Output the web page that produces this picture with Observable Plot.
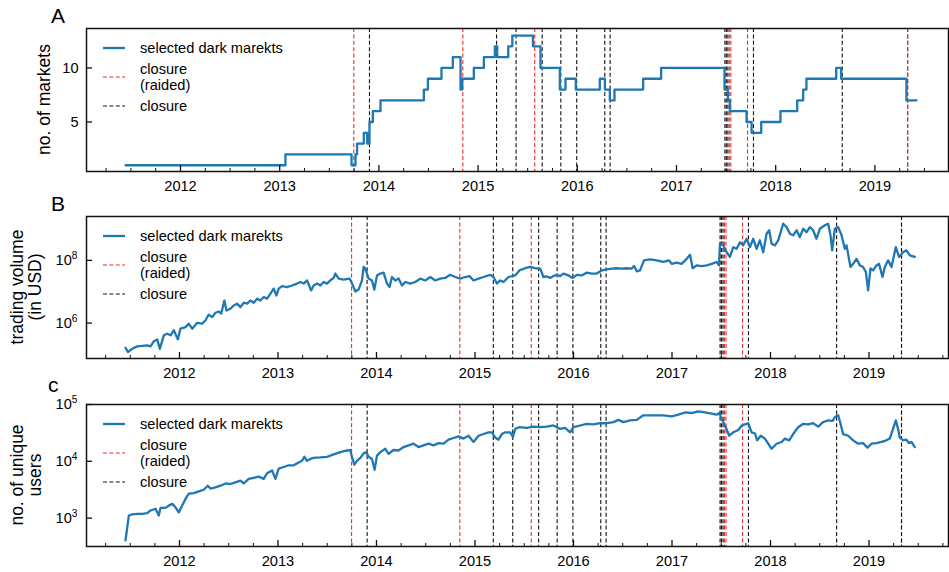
<!DOCTYPE html>
<html>
<head>
<meta charset="utf-8">
<script src="https://cdn.jsdelivr.net/npm/d3@7"></script>
<script src="https://cdn.jsdelivr.net/npm/@observablehq/plot@0.6"></script>
<style>
  body { margin: 0; background: #fff; }
  #wrap { position: relative; width: 949px; height: 572px; overflow: hidden; font-family: "Liberation Sans", Arial, Helvetica, sans-serif; }
  #wrap svg { position: absolute; left: 0; overflow: visible; }
</style>
</head>
<body>
<div id="wrap"></div>
<script>
// ---------------- data ----------------
const yearTicks = [2012, 2013, 2014, 2015, 2016, 2017, 2018, 2019];
const panelLetters = ["A", "B", "c"];
const legendLabels = ["selected dark marekts", "closure", "(raided)", "closure"];

// Panel A: number of markets (step changes), decimal year
const marketYear = [2011.446,2013.058,2013.724,2013.764,2013.78,2013.848,2013.882,2013.905,2013.939,2014.016,2014.453,2014.494,2014.631,2014.745,2014.823,2014.84,2014.957,2015.058,2015.169,2015.193,2015.304,2015.345,2015.553,2015.629,2015.824,2015.881,2015.985,2016.227,2016.278,2016.328,2016.375,2016.664,2016.845,2017.484,2017.518,2017.538,2017.706,2017.757,2017.854,2018.048,2018.217,2018.277,2018.31,2018.61,2018.66,2019.318,2019.419];
const marketCount = [1,2,1,2,3,4,3,5,6,7,8,9,10,11,8,9,10,11,12,11,12,13,12,10,8,9,8,9,8,7,8,9,10,8,7,6,5,4,5,6,7,8,9,10,9,7,7];

// Panel B: trading volume (USD)
const volumeYear = [2011.452,2011.476,2011.520,2011.571,2011.622,2011.672,2011.706,2011.739,2011.774,2011.800,2011.841,2011.875,2011.909,2011.942,2011.983,2012.010,2012.061,2012.094,2012.129,2012.180,2012.230,2012.264,2012.297,2012.332,2012.365,2012.399,2012.423,2012.456,2012.477,2012.517,2012.551,2012.585,2012.619,2012.652,2012.687,2012.720,2012.754,2012.788,2012.822,2012.855,2012.889,2012.923,2012.956,2012.984,2013.007,2013.042,2013.092,2013.143,2013.194,2013.227,2013.261,2013.295,2013.336,2013.362,2013.397,2013.430,2013.463,2013.498,2013.531,2013.565,2013.582,2013.616,2013.666,2013.727,2013.752,2013.785,2013.818,2013.853,2013.869,2013.886,2013.920,2013.954,2013.978,2014.005,2014.039,2014.072,2014.107,2014.133,2014.157,2014.191,2014.224,2014.259,2014.292,2014.343,2014.394,2014.444,2014.495,2014.546,2014.596,2014.647,2014.698,2014.748,2014.799,2014.850,2014.901,2014.944,2014.985,2015.036,2015.086,2015.154,2015.188,2015.222,2015.256,2015.289,2015.340,2015.408,2015.451,2015.509,2015.560,2015.611,2015.661,2015.695,2015.729,2015.763,2015.796,2015.831,2015.864,2015.898,2015.948,2015.993,2016.033,2016.084,2016.135,2016.186,2016.236,2016.287,2016.338,2016.389,2016.439,2016.490,2016.541,2016.591,2016.615,2016.642,2016.675,2016.716,2016.777,2016.845,2016.912,2016.970,2016.997,2017.048,2017.098,2017.149,2017.183,2017.210,2017.250,2017.301,2017.352,2017.403,2017.453,2017.477,2017.487,2017.520,2017.555,2017.588,2017.622,2017.656,2017.690,2017.723,2017.758,2017.791,2017.825,2017.859,2017.892,2017.926,2017.960,2017.987,2018.011,2018.045,2018.078,2018.129,2018.163,2018.197,2018.230,2018.265,2018.298,2018.332,2018.366,2018.400,2018.433,2018.467,2018.501,2018.552,2018.585,2018.609,2018.626,2018.653,2018.687,2018.721,2018.755,2018.772,2018.812,2018.839,2018.873,2018.907,2018.940,2018.968,2018.991,2019.015,2019.042,2019.076,2019.102,2019.137,2019.160,2019.194,2019.228,2019.272,2019.305,2019.346,2019.380,2019.414,2019.465];
const volumeUSD = [1.64e5,1.19e5,1.51e5,1.81e5,1.86e5,1.95e5,1.81e5,2.61e5,3.02e5,1.51e5,4.07e5,4.57e5,4.07e5,5.89e5,3.02e5,6.61e5,7.41e5,9.55e5,6.61e5,1.02e6,9.55e5,1.23e6,1.86e6,1.55e6,2.14e6,2.34e6,2.00e6,5.25e6,2.51e6,2.88e6,3.63e6,4.17e6,3.24e6,4.47e6,4.17e6,5.25e6,4.47e6,6.03e6,5.25e6,6.76e6,6.03e6,8.71e6,1.26e7,7.59e6,1.26e7,1.51e7,1.41e7,1.58e7,1.82e7,2.04e7,1.82e7,2.29e7,1.10e7,1.58e7,1.82e7,1.58e7,2.04e7,1.82e7,2.29e7,2.75e7,3.80e7,2.63e7,2.45e7,2.63e7,1.82e7,1.02e7,1.17e7,2.29e7,6.17e7,5.50e7,2.63e7,2.29e7,1.17e7,3.31e7,3.80e7,4.07e7,1.82e7,1.41e7,2.95e7,2.29e7,2.63e7,1.58e7,2.04e7,1.82e7,2.04e7,2.63e7,2.29e7,2.95e7,2.29e7,2.63e7,2.75e7,3.47e7,2.95e7,2.63e7,2.95e7,3.16e7,2.29e7,2.63e7,2.95e7,3.47e7,2.95e7,1.82e7,2.29e7,2.04e7,2.95e7,3.31e7,4.79e7,5.62e7,6.17e7,5.62e7,5.50e7,2.95e7,3.09e7,2.75e7,3.16e7,3.47e7,3.16e7,3.80e7,3.31e7,2.75e7,3.47e7,3.31e7,4.07e7,3.80e7,3.80e7,4.79e7,5.13e7,5.50e7,5.62e7,5.50e7,5.62e7,5.50e7,6.61e7,4.47e7,4.79e7,1.00e8,1.07e8,1.00e8,8.91e7,1.00e8,7.76e7,8.51e7,7.76e7,1.12e8,1.51e8,5.62e7,6.92e7,6.61e7,6.92e7,7.76e7,8.91e7,6.92e7,3.39e8,3.02e8,1.82e8,1.29e8,2.63e8,2.34e8,3.80e8,3.02e8,4.90e8,2.63e8,4.90e8,2.34e8,4.37e8,1.82e8,7.08e8,9.12e8,3.39e8,3.02e8,4.37e8,1.48e9,1.15e9,7.08e8,6.31e8,9.12e8,5.50e8,1.02e9,7.94e8,1.15e9,9.12e8,4.90e8,1.02e9,1.32e9,1.48e9,6.31e8,2.09e8,1.02e9,1.15e9,6.31e8,2.34e8,3.02e8,6.17e7,7.76e7,1.12e8,6.92e7,6.17e7,4.27e7,1.10e7,5.50e7,4.79e7,6.92e7,7.76e7,2.95e7,6.17e7,1.00e8,6.17e7,2.63e8,1.29e8,1.82e8,2.09e8,1.45e8,1.29e8];

// Panel C: number of unique users
const usersYear = [2011.452,2011.470,2011.486,2011.520,2011.571,2011.622,2011.672,2011.706,2011.757,2011.790,2011.807,2011.858,2011.891,2011.926,2011.959,2011.993,2012.027,2012.071,2012.094,2012.145,2012.196,2012.246,2012.287,2012.314,2012.365,2012.416,2012.467,2012.517,2012.568,2012.619,2012.652,2012.703,2012.754,2012.804,2012.855,2012.889,2012.940,2012.974,2013.007,2013.058,2013.109,2013.159,2013.210,2013.244,2013.268,2013.295,2013.329,2013.362,2013.430,2013.498,2013.565,2013.633,2013.701,2013.734,2013.752,2013.775,2013.802,2013.836,2013.869,2013.897,2013.920,2013.954,2013.981,2014.005,2014.039,2014.089,2014.123,2014.173,2014.224,2014.275,2014.326,2014.376,2014.427,2014.478,2014.528,2014.579,2014.630,2014.681,2014.731,2014.782,2014.833,2014.883,2014.934,2014.985,2015.036,2015.086,2015.137,2015.171,2015.205,2015.238,2015.273,2015.306,2015.357,2015.385,2015.408,2015.451,2015.526,2015.593,2015.661,2015.729,2015.796,2015.831,2015.864,2015.915,2015.966,2015.999,2016.067,2016.135,2016.202,2016.270,2016.338,2016.406,2016.456,2016.507,2016.574,2016.642,2016.709,2016.810,2016.912,2016.997,2017.064,2017.132,2017.200,2017.267,2017.335,2017.403,2017.453,2017.480,2017.504,2017.538,2017.581,2017.622,2017.673,2017.707,2017.740,2017.774,2017.808,2017.842,2017.865,2017.900,2017.943,2017.977,2018.011,2018.062,2018.113,2018.146,2018.190,2018.230,2018.281,2018.332,2018.382,2018.433,2018.484,2018.534,2018.585,2018.630,2018.653,2018.687,2018.711,2018.737,2018.788,2018.839,2018.890,2018.940,2018.985,2019.025,2019.076,2019.127,2019.177,2019.211,2019.238,2019.272,2019.295,2019.312,2019.346,2019.380,2019.406,2019.431,2019.465];
const usersCount = [404,692,1110,1160,1190,1190,1220,1360,1460,1110,1510,1510,1660,1780,1550,1260,1660,2340,2690,2750,2950,3160,3720,3310,3470,3720,4070,3980,4270,4570,4070,4900,5130,5370,4900,6170,6920,4900,7410,7940,8510,8510,9550,10200,12000,10200,11000,11500,11700,12000,13200,14500,15500,15800,11700,8710,10200,11500,13800,14500,12000,11000,7080,12600,14500,16600,13500,15800,15500,17800,19100,20400,17800,19100,20400,19100,20900,20400,24000,25700,27500,25100,28200,21900,28200,30200,32400,32400,26300,24000,30200,32400,32400,26900,37200,39800,38900,40700,39800,40700,42700,39800,37200,38900,32400,39800,42700,45700,44700,46800,46800,49000,53700,49000,52500,53700,64600,64600,64600,61700,66100,72400,70800,75900,72400,69200,66100,70800,56200,42700,28200,32400,35500,42700,44700,46800,32400,30900,23400,28200,25100,20400,16600,20400,21900,25100,23400,30200,39800,45700,44700,46800,40700,49000,52500,51300,60300,64600,45700,30200,28200,23400,20400,20900,17400,20400,20900,21900,23400,25100,34700,52500,37200,26300,23400,24000,20900,21900,17800];

// Closure events (decimal year)
const raidedYear = [2013.747, 2014.846, 2015.571, 2017.532, 2017.548, 2017.716, 2019.330];
const closureYear = [2013.905, 2015.186, 2015.383, 2015.646, 2015.834, 2015.994, 2016.277, 2016.331, 2017.488, 2017.502, 2017.518, 2017.776, 2018.671, 2019.330];

// ---------------- drawing ----------------
const FONT = '"Liberation Sans", Arial, Helvetica, sans-serif';
const BLUE = "#1f77b4", RED = "#ee2a2a", BLACK = "#111";
const DASH = "4,2.4";
const W = 949, ML = 86, MR = 1;

function zip(xs, ys) {
  const n = Math.min(xs.length, ys.length);
  return d3.range(n).map(i => ({t: xs[i], v: ys[i]}));
}

function panel(cfg) {
  const fh = cfg.height - cfg.mt - cfg.mb;
  const fw = W - ML - MR;
  const minor = d3.range(Math.floor(cfg.xDomain[0]), Math.ceil(cfg.xDomain[1]), 0.25)
    .filter(d => d % 1 !== 0 && d > cfg.xDomain[0] && d < cfg.xDomain[1]);
  const rules = [
    Plot.ruleX(cfg.redOnTop ? closureYear : raidedYear, {x: d => d, stroke: cfg.redOnTop ? BLACK : RED, strokeWidth: 1.1, strokeDasharray: DASH}),
    Plot.ruleX(cfg.redOnTop ? raidedYear : closureYear, {x: d => d, stroke: cfg.redOnTop ? RED : BLACK, strokeWidth: 1.1, strokeDasharray: DASH})
  ];
  const chart = Plot.plot({
    width: W, height: cfg.height,
    marginLeft: ML, marginRight: MR, marginTop: cfg.mt, marginBottom: cfg.mb,
    x: {domain: cfg.xDomain},
    y: {type: cfg.yType, domain: cfg.yDomain},
    style: {fontFamily: FONT, fontSize: "14.6px", color: "#000", background: "transparent", overflow: "visible"},
    marks: [
      ...rules,
      Plot.line(cfg.data, {x: "t", y: "v", stroke: BLUE, strokeWidth: 2.3, curve: cfg.curve || "linear", strokeLinejoin: "round"}),
      Plot.frame({stroke: "#111", strokeWidth: 1.5}),
      Plot.tickX(yearTicks, {x: d => d, insetTop: fh - 6, stroke: "#111", strokeWidth: 1.3}),
      Plot.tickX(minor, {x: d => d, insetTop: fh - 3, stroke: "#111", strokeWidth: 1}),
      Plot.tickY(cfg.yTicks, {y: d => d, insetRight: fw - 6, stroke: "#111", strokeWidth: 1.3}),
      Plot.axisX(yearTicks, {tickSize: 0, tickPadding: 9, tickFormat: d => String(d), label: null, fontSize: 14.6, fill: "#000"}),
      Plot.axisY(cfg.yTicks, {tickSize: 0, tickPadding: cfg.yPad, tickFormat: cfg.yFormat, label: null, fontSize: 14.6, fill: "#000"})
    ]
  });
  chart.style.top = cfg.top + "px";
  chart.style.left = "0px";
  chart.style.position = "absolute";
  const svg = d3.select(chart);

  // superscript exponents on log tick labels
  svg.selectAll('g[aria-label="y-axis tick label"] text').each(function () {
    const s = this.textContent;
    if (s.startsWith("10^")) {
      const e = s.slice(3);
      this.textContent = "10";
      d3.select(this).append("tspan").attr("dy", "-0.6em").attr("font-size", "0.7em").text(e);
    }
  });

  const g = svg.append("g").attr("font-family", FONT).attr("fill", "#000").attr("text-anchor", "start");
  // panel letter
  g.append("text").attr("x", cfg.letterX).attr("y", cfg.letterY).attr("font-size", 21).text(cfg.letter);
  // y-axis label (rotated)
  const cy = cfg.mt + fh / 2;
  cfg.ylabel.forEach((line, i) => {
    g.append("text")
      .attr("transform", `translate(${cfg.ylabelX[i]},${cy}) rotate(-90)`)
      .attr("text-anchor", "middle").attr("font-size", 17.5).text(line);
  });
  // legend
  const top = cfg.mt;
  const lx1 = 103, lx2 = 125, tx = 140;
  g.append("line").attr("x1", lx1).attr("x2", lx2).attr("y1", top + 20).attr("y2", top + 20)
    .attr("stroke", BLUE).attr("stroke-width", 2.3);
  g.append("text").attr("x", tx).attr("y", top + 20).attr("dy", "0.35em").attr("font-size", 14.6).text(legendLabels[0]);
  g.append("line").attr("x1", lx1).attr("x2", lx2).attr("y1", top + 49).attr("y2", top + 49)
    .attr("stroke", RED).attr("stroke-width", 1.1).attr("stroke-dasharray", DASH);
  g.append("text").attr("x", tx).attr("y", top + 41).attr("dy", "0.35em").attr("font-size", 14.6).text(legendLabels[1]);
  g.append("text").attr("x", tx).attr("y", top + 56.5).attr("dy", "0.35em").attr("font-size", 14.6).text(legendLabels[2]);
  g.append("line").attr("x1", lx1).attr("x2", lx2).attr("y1", top + 78).attr("y2", top + 78)
    .attr("stroke", BLACK).attr("stroke-width", 1.1).attr("stroke-dasharray", DASH);
  g.append("text").attr("x", tx).attr("y", top + 78).attr("dy", "0.35em").attr("font-size", 14.6).text(legendLabels[3]);

  document.getElementById("wrap").appendChild(chart);
}

const logFmt = d => "10^" + Math.round(Math.log10(d));

panel({
  top: 0, height: 200, mt: 28, mb: 29,
  xDomain: [2011.0524, 2019.742],
  yType: "linear", yDomain: [0.42, 13.65], yTicks: [5, 10], yFormat: d => String(d), yPad: 8,
  data: zip(marketYear, marketCount), curve: "step-after",
  letter: panelLetters[0], letterX: 51, letterY: 23,
  ylabel: ["no. of markets"], ylabelX: [50],
  redOnTop: true
});

panel({
  top: 190, height: 196, mt: 26, mb: 28,
  xDomain: [2011.056, 2019.807],
  yType: "log", yDomain: [Math.pow(10, 4.87), Math.pow(10, 9.40)], yTicks: [1e6, 1e8], yFormat: logFmt, yPad: 9,
  data: zip(volumeYear, volumeUSD),
  letter: panelLetters[1], letterX: 51, letterY: 21,
  ylabel: ["trading volume", "(in USD)"], ylabelX: [23, 41.3],
  redOnTop: false
});

panel({
  top: 380, height: 192, mt: 24, mb: 26,
  xDomain: [2011.056, 2019.807],
  yType: "log", yDomain: [Math.pow(10, 2.5), 1e5], yTicks: [1e3, 1e4, 1e5], yFormat: logFmt, yPad: 9,
  data: zip(usersYear, usersCount),
  letter: panelLetters[2], letterX: 48, letterY: 12,
  ylabel: ["no. of unique", "users"], ylabelX: [23, 41.3],
  redOnTop: false
});
</script>
</body>
</html>
